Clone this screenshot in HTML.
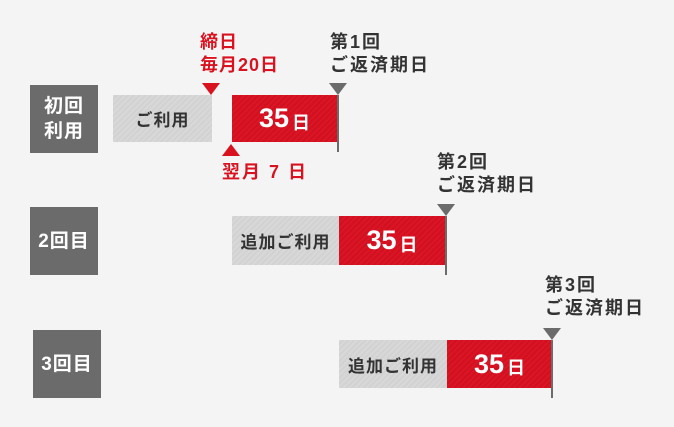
<!DOCTYPE html>
<html><head><meta charset="utf-8"><style>
body{margin:0;width:674px;height:427px;background:#f4f4f4;position:relative;overflow:hidden;font-family:"Liberation Sans","Noto Sans CJK JP",sans-serif;font-weight:bold}
.a{position:absolute}
.lbl{position:absolute;background:#6b6b6b;color:#fff;width:68px;height:68px;display:flex;align-items:center;justify-content:center;text-align:center;font-size:19px;line-height:25px;letter-spacing:1px}
.g{position:absolute;background:repeating-linear-gradient(135deg,#d8d8d8 0 2px,#d2d2d2 2px 4px);color:#333;display:flex;align-items:center;justify-content:center;font-size:17px;letter-spacing:1px}
.r{position:absolute;background:repeating-linear-gradient(135deg,#da1525 0 2px,#d11020 2px 4px);color:#fff;display:flex;align-items:center;justify-content:center;font-size:27px}
.r small{font-size:18px;margin-left:3px;margin-top:6px}
.pole{position:absolute;width:2px;background:#6b6b6b}
.td{position:absolute;width:0;height:0;border-left:9px solid transparent;border-right:9px solid transparent;border-top:12px solid #6b6b6b}
.t{position:absolute;font-size:18px;line-height:23px;color:#333;letter-spacing:2px;white-space:nowrap}
.red{color:#d9121f;text-shadow:0 0 2px #fff,0 0 2px #fff}
</style></head><body>
<div class="lbl" style="left:30px;top:85px">初回<br>利用</div>
<div class="lbl" style="left:30px;top:207px">2回目</div>
<div class="lbl" style="left:33px;top:330px">3回目</div>

<div class="t red" style="left:200px;top:31px;letter-spacing:1px">締日<br>毎月20日</div>
<div class="td" style="left:202px;top:83px;border-top-color:#d9121f"></div>
<div class="g" style="left:113px;top:95px;width:99px;height:47px">ご利用</div>
<div class="r" style="left:232px;top:95px;width:105px;height:47px">35<small>日</small></div>
<div class="a" style="left:222px;top:144px;width:0;height:0;border-left:9px solid transparent;border-right:9px solid transparent;border-bottom:12px solid #d9121f"></div>
<div class="t red" style="left:222px;top:161px;letter-spacing:2px">翌月 7 日</div>
<div class="t" style="left:330px;top:31px">第1回<br>ご返済期日</div>
<div class="td" style="left:329px;top:83px"></div>
<div class="pole" style="left:337px;top:95px;height:57px"></div>

<div class="t" style="left:437px;top:151px">第2回<br>ご返済期日</div>
<div class="td" style="left:437px;top:204px"></div>
<div class="g" style="left:232px;top:216px;width:107px;height:49px">追加ご利用</div>
<div class="r" style="left:339px;top:216px;width:106px;height:49px">35<small>日</small></div>
<div class="pole" style="left:445px;top:216px;height:59px"></div>

<div class="t" style="left:545px;top:274px">第3回<br>ご返済期日</div>
<div class="td" style="left:543px;top:328px"></div>
<div class="g" style="left:339px;top:340px;width:108px;height:48px">追加ご利用</div>
<div class="r" style="left:447px;top:340px;width:105px;height:48px">35<small>日</small></div>
<div class="pole" style="left:551px;top:340px;height:58px"></div>
</body></html>
